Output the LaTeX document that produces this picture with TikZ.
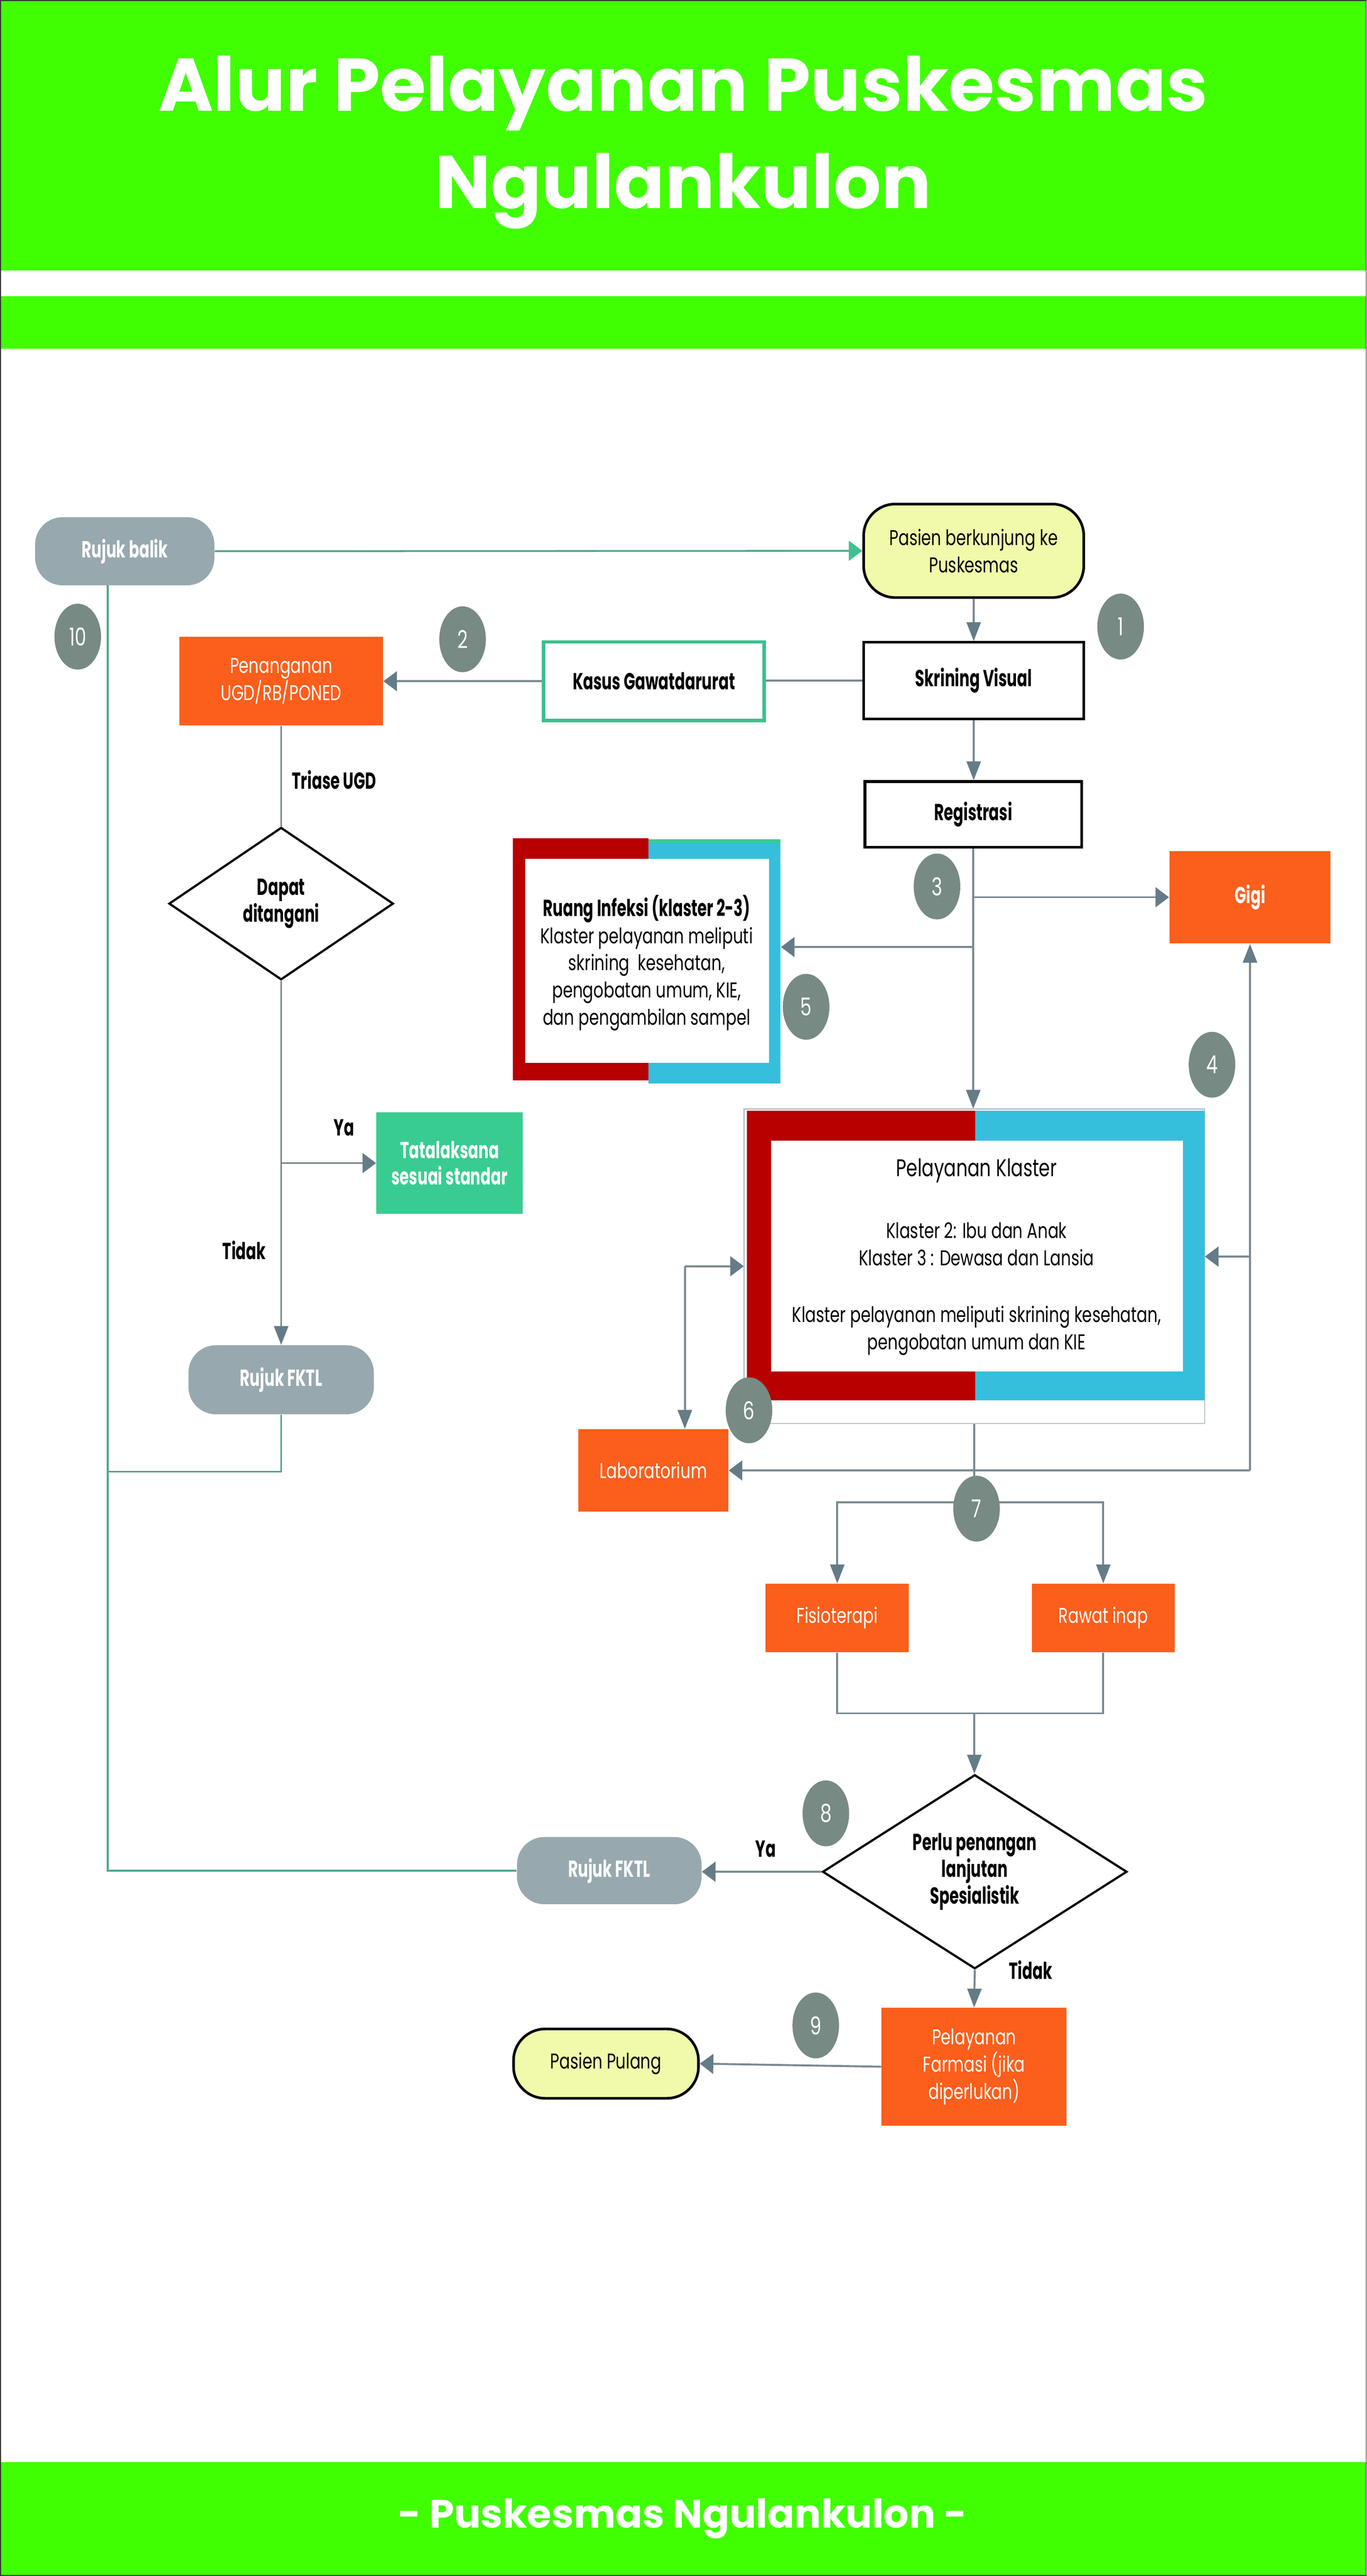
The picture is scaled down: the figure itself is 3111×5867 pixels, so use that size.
\documentclass[tikz,border=0pt]{standalone}
\usepackage{fontspec}
\usetikzlibrary{arrows.meta,shapes.geometric}
\newfontfamily\fr{Poppins}[FakeStretch=0.74]
\newfontfamily\fb{Poppins}[FakeStretch=0.65]
\newfontfamily\ft{Poppins}
\newcommand\pxu{0.24pt}
\newcommand\fsr{\fr\fontsize{11.7pt}{14.9pt}\selectfont}
\newcommand\fsrL{\fr\fontsize{13.2pt}{15pt}\selectfont}
\newcommand\fsb{\fb\bfseries\fontsize{12.7pt}{14.6pt}\selectfont}
\newcommand\fnum{\fr\fontsize{13.5pt}{15pt}\selectfont}
\definecolor{hgreen}{HTML}{40FF00}
\definecolor{orangec}{HTML}{FC5E1B}
\definecolor{redc}{HTML}{B80000}
\definecolor{cyanc}{HTML}{35BFDD}
\definecolor{mint}{HTML}{38CC90}
\definecolor{pillg}{HTML}{97A9AE}
\definecolor{circg}{HTML}{778A84}
\definecolor{yel}{HTML}{F0FAAA}
\definecolor{tealb}{HTML}{3CBF8E}
\definecolor{tealline}{HTML}{53A38F}
\definecolor{greenarr}{HTML}{3EC08F}
\definecolor{linec}{HTML}{7A8A91}
\definecolor{arrc}{HTML}{647C87}
\definecolor{pkb}{HTML}{BCC6CA}
\tikzset{
  sz/.style 2 args={minimum width=#1*\pxu, minimum height=#2*\pxu},
  orangebox/.style={rectangle, fill=orangec, inner sep=0, text=white, align=center, font=\fsr},
  pillgray/.style={rectangle, rounded corners=14.9pt, fill=pillg, text=white, font=\fsb, inner sep=0},
  pillyel/.style={rectangle, rounded corners=17.3pt, fill=yel, draw=black, line width=1.44pt, font=\fsr, align=center, inner sep=0},
  blackbox/.style={rectangle, draw=black, line width=1.44pt, fill=white, font=\fsb, inner sep=0},
  decision/.style={diamond, draw=black, line width=1.2pt, fill=white, inner sep=0, font=\fsb, align=center},
  num/.style={ellipse, fill=circg, text=white, minimum width=106*\pxu, minimum height=150*\pxu, inner sep=0, font=\fnum},
  lbl/.style={font=\fsb, inner sep=0},
  lin/.style={draw=linec, line width=1.08pt},
  av/.style={lin, -{Triangle[length=10.3pt,width=7.7pt,color=arrc]}},
  ah/.style={lin, -{Triangle[length=7.4pt,width=10.8pt,color=arrc]}},
  tl/.style={draw=tealline, line width=1pt},
}
\begin{document}
\begin{tikzpicture}[x=0.24pt, y=-0.24pt]
\useasboundingbox (0,0) rectangle (3111,5867);
\fill[white] (0,0) rectangle (3111,5867);
% header and footer
\fill[hgreen] (0,0) rectangle (3111,616);
\fill[hgreen] (0,675) rectangle (3111,794);
\fill[hgreen] (0,5608) rectangle (3111,5867);
\node[font=\ft\bfseries\fontsize{40.8pt}{50pt}\selectfont, text=white, anchor=base, inner sep=0] (t1) at (1555,253) {Alur Pelayanan Puskesmas};
\node[font=\ft\bfseries\fontsize{40.8pt}{50pt}\selectfont, text=white, anchor=base, inner sep=0] (t2) at (1555,475) {Ngulankulon};
\node[font=\ft\bfseries\fontsize{21.6pt}{26pt}\selectfont, text=white, anchor=base, inner sep=0] (foot) at (1554,5757) {- Puskesmas Ngulankulon -};

% Ruang Infeksi frame
\fill[redc] (1167,1909) rectangle (1476,2461);
\fill[cyanc] (1476,1915) rectangle (1777,2468);
\fill[mint] (1476,1912) rectangle (1777,1920);
\fill[white] (1196,1956) rectangle (1751,2421);
\node[sz={610}{559}, inner sep=0] (ri) at (1472,2188.5) {};
\node[font=\fsr, align=center, inner sep=0] (rit) at (1472,2193) {{\fsb Ruang Infeksi (klaster 2-3)}\\Klaster pelayanan meliputi\\skrining~~kesehatan,\\pengobatan umum, KIE,\\dan pengambilan sampel};

% Pelayanan Klaster frame
\draw[draw=pkb, line width=0.72pt, fill=white] (1694,2526) rectangle (2742,3242);
\fill[redc] (1700,2530) rectangle (2220,3189);
\fill[cyanc] (2220,2530) rectangle (2742,3189);
\fill[white] (1755,2598) rectangle (2693,3124);
\node[sz={1048}{716}, inner sep=0] (pk) at (2218,2884) {};
\node[font=\fsrL, inner sep=0] (pkt) at (2223,2666) {Pelayanan Klaster};
\node[font=\fsr, align=center, inner sep=0] (pk2) at (2223,2833) {Klaster 2: Ibu dan Anak\\Klaster 3 : Dewasa dan Lansia};
\node[font=\fsr, align=center, inner sep=0] (pk3) at (2223,3031) {Klaster pelayanan meliputi skrining kesehatan,\\pengobatan umum dan KIE};

% nodes
\node[pillgray, sz={408}{155}] (rb) at (284,1255.5) {Rujuk balik};
\node[pillyel, sz={501}{213}] (pas) at (2216.5,1254.5) {Pasien berkunjung ke\\Puskesmas};
\node[blackbox, sz={501}{174}] (sv) at (2216.5,1550) {Skrining Visual};
\node[blackbox, sz={493}{150}] (reg) at (2215.5,1855) {Registrasi};
\node[blackbox, draw=tealb, line width=1.92pt, sz={503}{179}] (kg) at (1488.5,1551.5) {Kasus Gawatdarurat};
\node[orangebox, sz={464}{202}] (pen) at (640,1551) {Penanganan\\UGD/RB/PONED};
\node[decision, sz={511}{347}, aspect=1.47] (d1) at (640,2058) {Dapat\\ditangani};
\node[rectangle, fill=mint, sz={333}{232}, text=white, font=\fsb, align=center, inner sep=0] (tata) at (1023.5,2649) {Tatalaksana\\sesuai standar};
\node[pillgray, sz={422}{157}] (fk1) at (640,3142.5) {Rujuk FKTL};
\node[orangebox, font=\fsb, sz={367}{211}] (gigi) at (2845.5,2043.5) {Gigi};
\node[orangebox, sz={341}{188}] (lab) at (1487.5,3349) {Laboratorium};
\node[orangebox, sz={326}{156}] (fis) at (1906,3685) {Fisioterapi};
\node[orangebox, sz={325}{156}] (raw) at (2511.5,3685) {Rawat inap};
\node[decision, sz={693}{442}, aspect=1.57] (d2) at (2219,4263) {Perlu penangan\\lanjutan\\Spesialistik};
\node[pillgray, sz={420}{153}] (fk2) at (1387,4260.5) {Rujuk FKTL};
\node[orangebox, sz={421}{268}] (far) at (2217.5,4707) {Pelayanan\\Farmasi (jika\\diperlukan)};
\node[pillyel, sz={421}{158}] (pp) at (1379.5,4700) {Pasien Pulang};

% labels
\node[lbl, anchor=west] (tri) at (664,1776) {Triase UGD};
\node[lbl] (ya1) at (783,2568) {Ya};
\node[lbl] (td1) at (556,2847) {Tidak};
\node[lbl] (ya2) at (1743,4211) {Ya};
\node[lbl] (td2) at (2346,4487) {Tidak};

% teal connectors
\coordinate (rbv) at (245,1333);
\coordinate (j1) at (245,3352);
\draw[tl, -{Triangle[length=7.4pt,width=10.8pt,color=greenarr]}] (rb.east) -- (pas.west);
\draw[tl] (fk2.west) -| (rbv);
\draw[tl] (fk1.south) |- (j1);

% gray connectors
\draw[av] (pas.south) -- (sv.north);
\draw[av] (sv.south) -- (sv.south |- reg.north);
\draw[lin] (sv.west) -- (sv.west -| kg.east);
\draw[ah] (kg.west) -- (kg.west -| pen.east);
\draw[lin] (pen.south) -- (d1.north);
\draw[av] (d1.south) -- (fk1.north);
\draw[ah] (d1.south |- tata.west) -- (tata.west);
\draw[av] (reg.south) -- (reg.south |- pk.north);
\draw[ah] (reg.south |- gigi.west) -- (gigi.west);
\draw[ah] ([yshift=7.56pt]ri.east -| reg.south) -- ([yshift=7.56pt]ri.east);
\coordinate (rv) at (gigi.south |- lab.east);
\coordinate (pkR) at ([yshift=5.28pt]pk.east);
\coordinate (labT) at ([xshift=17.16pt]lab.north);
\coordinate (br7) at (2218,3422);
\coordinate (jn) at (2218,3902);
\draw[ah] (rv) -- (lab.east);
\draw[av] (rv) -- (gigi.south);
\draw[ah] (rv |- pkR) -- (pkR);
\draw[av] (labT |- pk.west) -- (labT);
\draw[ah] (labT |- pk.west) -- (pk.west);
\draw[lin] (pk.south) -- (br7);
\draw[av] (br7) -| (fis.north);
\draw[av] (br7) -| (raw.north);
\draw[lin] (fis.south) |- (jn) -| (raw.south);
\draw[av] (jn) -- (jn |- d2.north);
\draw[ah] (d2.west) -- (d2.west -| fk2.east);
\draw[av] (d2.south) -- (far.north);
\draw[ah] (far.west) -- (pp.east);

% step numbers
\node[num] (n1) at (2551,1427) {1};
\node[num] (n2) at (1053,1456) {2};
\node[num] (n3) at (2133,2019) {3};
\node[num] (n4) at (2759,2425) {4};
\node[num] (n5) at (1835,2293) {5};
\node[num] (n6) at (1705,3212) {6};
\node[num] (n7) at (2223,3436) {7};
\node[num] (n8) at (1880,4130) {8};
\node[num] (n9) at (1857,4613) {9};
\node[num] (n10) at (177,1450) {10};

% outer border
\draw[draw=black!80, line width=0.5pt] (1,1) rectangle (3110,5866);
\end{tikzpicture}
\end{document}
